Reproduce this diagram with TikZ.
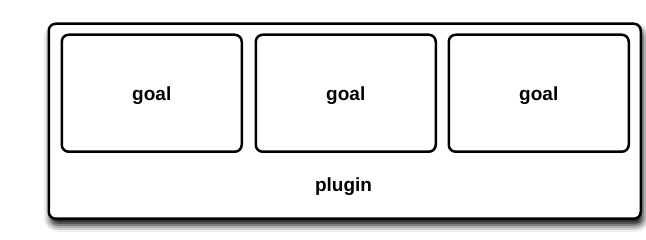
\documentclass[tikz,border=0pt]{standalone}
\usepackage{fontspec}
\setmainfont{Liberation Sans}
\usetikzlibrary{shadows.blur}

\tikzset{
	pluginbox/.style={draw=black, line width=2.5pt, rounded corners=7pt, fill=white, inner sep=0pt,
		blur shadow={shadow xshift=2pt, shadow yshift=-6pt, shadow blur radius=7pt, shadow opacity=100}},
	goalbox/.style={draw=black, line width=2.5pt, rounded corners=7pt, fill=white, inner sep=0pt,
		minimum width=180pt, minimum height=117pt, anchor=north west},
	boxtext/.style={font=\fontsize{19}{21}\selectfont\bfseries, inner sep=0pt}
}

\begin{document}
\begin{tikzpicture}[x=1pt, y=1pt]
		%%%%% START %%%%%
		\useasboundingbox (0, 0) rectangle (646, -240);
		
		\node[pluginbox, minimum width=592pt, minimum height=195pt, anchor=north west] (plugin) at (47.5, -22.5) {};
		\node[boxtext] (pluginlabel) at (343.5, -187) {plugin};
		
		\foreach \i/\x in {1/60.5, 2/254.5, 3/447.5}{
			\node[goalbox] (goal\i) at (\x, -33.5) {};
			\node[boxtext] (goallabel\i) at ([yshift=-2pt]goal\i.center) {goal};
		}
		
		%%%%% END %%%%%
	\end{tikzpicture}
\end{document}
